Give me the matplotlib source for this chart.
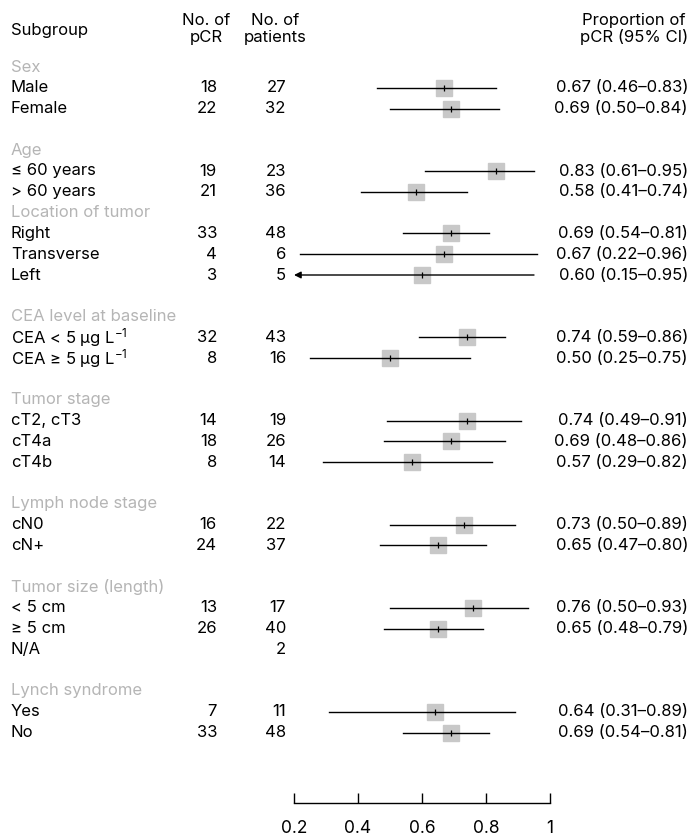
import matplotlib.pyplot as plt
import matplotlib.transforms as mtransforms

plt.rcParams['font.family'] = ['Inter', 'DejaVu Sans']
plt.rcParams['mathtext.default'] = 'regular'

# group headers: (row index, text)
groups = ["Sex", "Age", "Location of tumor", "CEA level at baseline",
          "Tumor stage", "Lymph node stage", "Tumor size (length)", "Lynch syndrome"]
group_rows = [0, 4, 7, 12, 16, 21, 25, 30]

labels = ["Male", "Female", "≤ 60 years", "> 60 years", "Right", "Transverse", "Left",
          "CEA < 5 μg L$^{-1}$", "CEA ≥ 5 μg L$^{-1}$", "cT2, cT3", "cT4a", "cT4b",
          "cN0", "cN+", "< 5 cm", "≥ 5 cm", "N/A", "Yes", "No"]
label_rows = [1, 2, 5, 6, 8, 9, 10, 13, 14, 17, 18, 19, 22, 23, 26, 27, 28, 31, 32]
n_pcr = ["18", "22", "19", "21", "33", "4", "3", "32", "8", "14", "18", "8",
         "16", "24", "13", "26", "", "7", "33"]
n_pat = ["27", "32", "23", "36", "48", "6", "5", "43", "16", "19", "26", "14",
         "22", "37", "17", "40", "2", "11", "48"]
est = [0.67, 0.69, 0.83, 0.58, 0.69, 0.67, 0.60, 0.74, 0.50, 0.74, 0.69, 0.57,
       0.73, 0.65, 0.76, 0.65, None, 0.64, 0.69]
lo = [0.46, 0.50, 0.61, 0.41, 0.54, 0.22, 0.15, 0.59, 0.25, 0.49, 0.48, 0.29,
      0.50, 0.47, 0.50, 0.48, None, 0.31, 0.54]
hi = [0.83, 0.84, 0.95, 0.74, 0.81, 0.96, 0.95, 0.86, 0.75, 0.91, 0.86, 0.82,
      0.89, 0.80, 0.93, 0.79, None, 0.89, 0.81]
ticks = [0.2, 0.4, 0.6, 0.8, 1.0]
tick_labels = ["0.2", "0.4", "0.6", "0.8", "1"]

W, H = 690, 840
y0, dy = 67, 20.8
axis_y = 803
fs = 12
grey = '#b5b5b5'

fig = plt.figure(figsize=(W / 100, H / 100), dpi=100)
ax = fig.add_axes([294 / W, (H - axis_y) / H, 256 / W, axis_y / H])
ax.set_xlim(0.2, 1.0)
ax.set_ylim(axis_y, 0)
for s in ['top', 'left', 'right']:
    ax.spines[s].set_visible(False)
ax.spines['bottom'].set_linewidth(1.0)
ax.set_yticks([])
ax.set_xticks(ticks)
ax.set_xticklabels(tick_labels, fontsize=12.5)
ax.tick_params(axis='x', direction='in', length=7, width=1.0, pad=12)

tr = mtransforms.blended_transform_factory(fig.transFigure, ax.transData)


def put(xpx, y, s, **kw):
    ax.text(xpx / W, y, s, transform=tr, fontsize=fs, va='center', clip_on=False, **kw)


# header
ax.text(11 / W, 30, "Subgroup", transform=tr, fontsize=fs, va='center')
ax.text(206 / W, 29, "No. of\npCR", transform=tr, fontsize=fs, va='center',
        ha='center', linespacing=1.15)
ax.text(275 / W, 29, "No. of\npatients", transform=tr, fontsize=fs, va='center',
        ha='center', linespacing=1.15)
ax.text(688 / W, 29, "Proportion of\npCR (95% CI)", transform=tr, fontsize=fs,
        va='center', ha='right', multialignment='center', linespacing=1.15)

for g, r in zip(groups, group_rows):
    put(11, y0 + r * dy, g, color=grey)

for i, r in enumerate(label_rows):
    y = y0 + r * dy
    put(11, y, labels[i])
    put(217, y, n_pcr[i], ha='right')
    put(286, y, n_pat[i], ha='right')
    if est[i] is None:
        continue
    put(688, y, f"{est[i]:.2f} ({lo[i]:.2f}–{hi[i]:.2f})", ha='right')
    ax.plot(est[i], y, marker='s', ms=11.5, color='#c8c8c8', zorder=2, clip_on=False)
    if lo[i] < 0.2:
        ax.annotate("", xy=(0.2, y), xytext=(hi[i], y),
                    arrowprops=dict(arrowstyle='-|>', color='black', lw=1.0,
                                    mutation_scale=10, shrinkA=0, shrinkB=0))
    else:
        ax.plot([lo[i], hi[i]], [y, y], color='black', lw=1.0, zorder=3)
    ax.plot(est[i], y, marker='|', ms=5, mew=0.9, color='black', zorder=4)

fig.savefig("out.png", dpi=100)
